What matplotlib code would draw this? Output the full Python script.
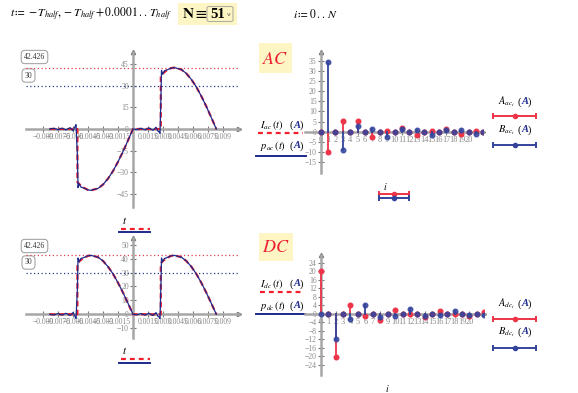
import matplotlib
matplotlib.use("Agg")
import matplotlib.pyplot as plt
from matplotlib.patches import FancyBboxPatch, Rectangle

plt.rcParams['font.family'] = ['Liberation Serif', 'DejaVu Serif']
plt.rcParams['mathtext.fontset'] = 'stix'

W, H = 578, 393

# ---------------- data ----------------
# AC current, ideal (red dashed) and Fourier sum N=51 (blue)
t_ideal = [-0.00833, -0.00556, -0.00556, -0.0053, -0.005, -0.0045, -0.0042, -0.0035, -0.003,
           -0.0025, -0.002, -0.0015, -0.001, -0.0005, 0.0,
           0.00278, 0.00278, 0.00303, 0.00333, 0.00383, 0.00413, 0.00483, 0.00533,
           0.00583, 0.00633, 0.00683, 0.00733, 0.00783, 0.00833]
i_ac = [0, 0, -36.7, -38.6, -40.3, -42.1, -42.4, -41.1, -38.4, -34.3, -29.1, -22.7, -15.6, -7.9, 0,
        0, 36.7, 38.6, 40.3, 42.1, 42.4, 41.1, 38.4, 34.3, 29.1, 22.7, 15.6, 7.9, 0]
i_dc = [0, 0, 36.7, 38.6, 40.3, 42.1, 42.4, 41.1, 38.4, 34.3, 29.1, 22.7, 15.6, 7.9, 0,
        0, 36.7, 38.6, 40.3, 42.1, 42.4, 41.1, 38.4, 34.3, 29.1, 22.7, 15.6, 7.9, 0]

t_four = [-0.00833, -0.0079, -0.0075, -0.0071, -0.0067, -0.0063, -0.006, -0.0058, -0.0057,
          -0.00556, -0.0055, -0.0054, -0.0052, -0.005, -0.0045, -0.0042, -0.0035, -0.003,
          -0.0025, -0.002, -0.0015, -0.001, -0.0005, 0.0,
          0.0004, 0.0008, 0.0012, 0.0016, 0.002, 0.0023, 0.0025, 0.0026, 0.0027,
          0.00278, 0.00285, 0.00295, 0.00315, 0.00333, 0.00383, 0.00413, 0.00483, 0.00533,
          0.00583, 0.00633, 0.00683, 0.00733, 0.00783, 0.00833]
p_ac = [0, 0.5, -0.5, 0.6, -0.7, 0.9, -1.2, 1.5, 3.0,
        -18, -40.5, -37.8, -40.2, -40.6, -42.1, -42.4, -41.1, -38.4,
        -34.3, -29.1, -22.7, -15.6, -7.9, 0,
        -0.4, 0.5, -0.6, 0.7, -0.9, 1.2, -1.5, -2.0, -3.0,
        18, 40.5, 37.8, 40.2, 40.6, 42.1, 42.4, 41.1, 38.4,
        34.3, 29.1, 22.7, 15.6, 7.9, 0]
p_dc = [0, -0.5, 0.5, -0.6, 0.7, -0.9, 1.2, -1.5, -3.0,
        18, 40.5, 37.8, 40.2, 40.6, 42.1, 42.4, 41.1, 38.4,
        34.3, 29.1, 22.7, 15.6, 7.9, 0,
        -0.4, 0.5, -0.6, 0.7, -0.9, 1.2, -1.5, -2.0, -3.0,
        18, 40.5, 37.8, 40.2, 40.6, 42.1, 42.4, 41.1, 38.4,
        34.3, 29.1, 22.7, 15.6, 7.9, 0]

peak = 42.426
rms = 30

# Fourier coefficients, i = 0..22
idx = list(range(23))
A_ac = [0, -10.1, 0, 5.1, 0, 5.1, 0, -2.5, 0, 0.5, 0, 2.0, 0, -1.4, 0, 0.2, 0, 1.3, 0, -1.0, 0, 0.1, 0]
B_ac = [0, 34.1, 0, -8.8, 0, 2.9, 0, 1.5, 0, -2.6, 0, 1.2, 0, 0.8, 0, -1.6, 0, 0.7, 0, 0.6, 0, -1.1, 0]
A_dc = [20.3, 0, -20.3, 0, 4.1, 0, -1.2, 0, -2.9, 0, 1.8, 0, -0.3, 0, -1.6, 0, 1.2, 0, -0.1, 0, -1.1, 0, 0.9]
B_dc = [0, 0, -11.7, 0, -2.3, 0, 4.0, 0, -1.7, 0, -1.1, 0, 2.0, 0, -0.9, 0, -0.7, 0, 1.3, 0, -0.6, 0, -0.5]

t_ticks = [-0.009, -0.0075, -0.006, -0.0045, -0.003, -0.0015, 0.0015, 0.003, 0.0045, 0.006, 0.0075, 0.009]
t_labels = ['−0.009', '−0.0075', '−0.006', '−0.0045', '−0.003', '−0.0015',
            '0.0015', '0.003', '0.0045', '0.006', '0.0075', '0.009']

RED = '#f0202c'
BLUE = '#1c2a8c'
SRED = '#ee3448'
SBLUE = '#34449c'
AXC = '#a6a6a6'
LBC = '#8a8a8a'

fig = plt.figure(figsize=(W / 100, H / 100), dpi=100)
ov = fig.add_axes([0, 0, 1, 1])
ov.set_xlim(0, W)
ov.set_ylim(H, 0)
ov.axis('off')


def ax_px(x0, y0, x1, y1):
    return fig.add_axes([x0 / W, 1 - y1 / H, (x1 - x0) / W, (y1 - y0) / H])


def style(ax, xlim, ylim):
    ax.set_xlim(*xlim)
    ax.set_ylim(*ylim)
    ax.patch.set_alpha(0)
    for s in ['top', 'right']:
        ax.spines[s].set_visible(False)
    for s in ['left', 'bottom']:
        ax.spines[s].set_position(('data', 0))
        ax.spines[s].set_color(AXC)
        ax.spines[s].set_linewidth(1.8)
    ax.tick_params(direction='inout', length=4, width=0.8, color='#777777',
                   labelcolor=LBC, labelsize=5.5, pad=1)
    ax.plot(1, 0, '>', color='#777777', ms=3, transform=ax.get_yaxis_transform(), clip_on=False)
    ax.plot(0, 1, '^', color='#777777', ms=3, transform=ax.get_xaxis_transform(), clip_on=False)


def val_box(x, y, s):
    ov.text(x, y, s, ha='center', va='center', fontsize=5.5, color='#333333',
            bbox=dict(boxstyle='round,pad=0.35,rounding_size=0.5', fc='white', ec='#999999', lw=0.7))


def leg_line(x0, x1, y, color, ls='-', marks=False):
    if ls == '--':
        ov.plot([x0, x1], [y, y], color=color, lw=1.6, dashes=(2.2, 1.8))
    else:
        ov.plot([x0, x1], [y, y], color=color, lw=1.4)
    if marks:
        ov.plot([x0, x1], [y, y], '|', color=color, ms=4, mew=1.4)
        ov.plot([(x0 + x1) / 2], [y], 'o', color=color, ms=3)


def fn_label(x, y, name, gap=30):
    # "name  (A)" with the unit A in bold italic blue
    ov.text(x, y, name, ha='left', va='center', fontsize=7.5, color='black')
    ov.text(x + gap, y, '(', ha='left', va='center', fontsize=7.5)
    ov.text(x + gap + 3.5, y, 'A', ha='left', va='center', fontsize=7.5, color=BLUE,
            fontweight='bold', fontstyle='italic')
    ov.text(x + gap + 10, y, ')', ha='left', va='center', fontsize=7.5)


# ---------------- header ----------------
ov.text(10, 14, r'$t \coloneq -T_{half}, -T_{half}+0.0001\,..\,T_{half}$', fontsize=8.5,
        ha='left', va='center')
ov.add_patch(Rectangle((178, 3), 59, 22, fc='#fdf5c4', ec='none'))
ov.text(182, 14, r'$\mathbf{N}$', fontsize=11, ha='left', va='center')
ov.text(194, 14, '≡', fontsize=11, ha='left', va='center', family='DejaVu Sans')
ov.add_patch(FancyBboxPatch((207, 6.5), 26, 15, boxstyle='round,pad=0,rounding_size=2',
                            fc='none', ec='#b0b0a0', lw=0.8))
ov.text(210, 14.5, '51', fontsize=10.5, fontweight='bold', ha='left', va='center')
ov.text(229, 14, 'v', fontsize=4.5, ha='center', va='center', color='#555555', family='DejaVu Sans')
ov.text(293, 14, r'$i \coloneq 0\,..\,N$', fontsize=8.5, ha='left', va='center')

# ---------------- AC time plot ----------------
ax1 = ax_px(26, 51.7, 239, 206.7)
style(ax1, (-0.0107, 0.0106), (-53.7, 53.4))
ax1.axhline(peak, color='#e04058', lw=0.9, ls=(0, (1, 2)))
ax1.axhline(rms, color='#2a3a96', lw=0.9, ls=(0, (1, 2)))
ax1.plot(t_ideal, i_ac, color=RED, lw=1.6, dashes=(2.5, 1.5), zorder=3)
ax1.plot(t_four, p_ac, color=BLUE, lw=0.9, zorder=4)
ax1.set_xticks(t_ticks)
ax1.set_xticklabels(t_labels)
ax1.set_yticks([-45, -30, -15, 0, 15, 30, 45])
ax1.set_yticklabels(['−45', '−30', '−15', '0', '15', '30', '45'])
val_box(34.5, 57, '42.426')
val_box(28.5, 75.5, '30')
ov.text(125, 221, r'$t$', fontsize=8, ha='center', va='center')
leg_line(121, 150, 229, RED, '--')
leg_line(119, 150, 232.3, BLUE)

# ---------------- DC time plot ----------------
ax2 = ax_px(26, 238.3, 239, 338.3)
style(ax2, (-0.0107, 0.0106), (-17.3, 54.7))
ax2.axhline(peak, color='#e04058', lw=0.9, ls=(0, (1, 2)))
ax2.axhline(rms, color='#2a3a96', lw=0.9, ls=(0, (1, 2)))
ax2.plot(t_ideal, i_dc, color=RED, lw=1.6, dashes=(2.5, 1.5), zorder=3)
ax2.plot(t_four, p_dc, color=BLUE, lw=0.9, zorder=4)
ax2.set_xticks(t_ticks)
ax2.set_xticklabels(t_labels)
ax2.set_yticks([-10, 0, 10, 20, 30, 40, 50])
ax2.set_yticklabels(['−10', '0', '10', '20', '30', '40', '50'])
val_box(34.5, 246, '42.426')
val_box(28.5, 262.5, '30')
ov.text(125, 351, r'$t$', fontsize=8, ha='center', va='center')
leg_line(121, 150, 359, RED, '--')
leg_line(119, 150, 362.5, BLUE)


# ---------------- stem plots ----------------
def stems(ax, A, B):
    for k, a in zip(idx, A):
        ax.plot([k, k], [0, a], color=SRED, lw=1.3, zorder=3)
    ax.plot(idx, A, 'o', color=SRED, ms=3.3, zorder=4)
    for k, b in zip(idx, B):
        ax.plot([k, k], [0, b], color=SBLUE, lw=1.3, zorder=5)
    ax.plot(idx, B, 'o', color=SBLUE, ms=3.3, alpha=0.85, zorder=6)


ax3 = ax_px(305, 51.7, 483.3, 172.7)
style(ax3, (-2.12, 22.0), (-20.2, 39.4))
stems(ax3, A_ac, B_ac)
ax3.set_xticks(range(0, 21))
ax3.set_yticks(range(-15, 40, 5))
ax3.set_yticklabels([str(v).replace('-', '−') for v in range(-15, 40, 5)])

ax4 = ax_px(305, 255, 484.3, 375)
style(ax4, (-2.12, 22.0), (-28.8, 27.6))
stems(ax4, A_dc, B_dc)
ax4.set_xticks(range(0, 21))
ax4.set_yticks(range(-24, 25, 4))
ax4.set_yticklabels([str(v).replace('-', '−') for v in range(-24, 25, 4)])

for ax in (ax3, ax4):
    ax.tick_params(axis='x', labelsize=6)

# AC / DC tags
ov.add_patch(Rectangle((259, 43), 33, 30, fc='#fdf5c4', ec='none'))
ov.text(275.5, 59, r'$AC$', color='#ee2030', fontsize=13, ha='center', va='center')
ov.add_patch(Rectangle((259, 233), 34, 28, fc='#fdf5c4', ec='none'))
ov.text(276, 247.5, r'$DC$', color='#ee2030', fontsize=13, ha='center', va='center')

# left legends of stem area
fn_label(260, 125, r'$I_{ac}\,(t)$')
leg_line(258, 303, 133, RED, '--')
fn_label(260, 146, r'$p_{ac}\,(t)$')
leg_line(256, 306, 156, BLUE)

fn_label(260, 284, r'$I_{dc}\,(t)$')
leg_line(260, 302, 291.7, RED, '--')
fn_label(260, 306, r'$p_{dc}\,(t)$')
leg_line(256, 305, 314.3, BLUE)

# right legends
fn_label(498, 102, r'$A_{ac_i}$', gap=20)
leg_line(493, 536, 116.3, SRED, marks=True)
fn_label(498, 130, r'$B_{ac_i}$', gap=20)
leg_line(493, 536, 145, SBLUE, marks=True)

fn_label(498, 304, r'$A_{dc_i}$', gap=20)
leg_line(493, 536, 319, SRED, marks=True)
fn_label(498, 332, r'$B_{dc_i}$', gap=20)
leg_line(493, 536, 347.7, SBLUE, marks=True)

# i legends
ov.text(385, 186, r'$i$', fontsize=7, ha='center', va='center')
leg_line(379, 409, 193.7, SRED, marks=True)
leg_line(379, 409, 198.3, SBLUE, marks=True)
ov.text(387, 388, r'$i$', fontsize=7, ha='center', va='center')

fig.savefig("out.png", dpi=100)
